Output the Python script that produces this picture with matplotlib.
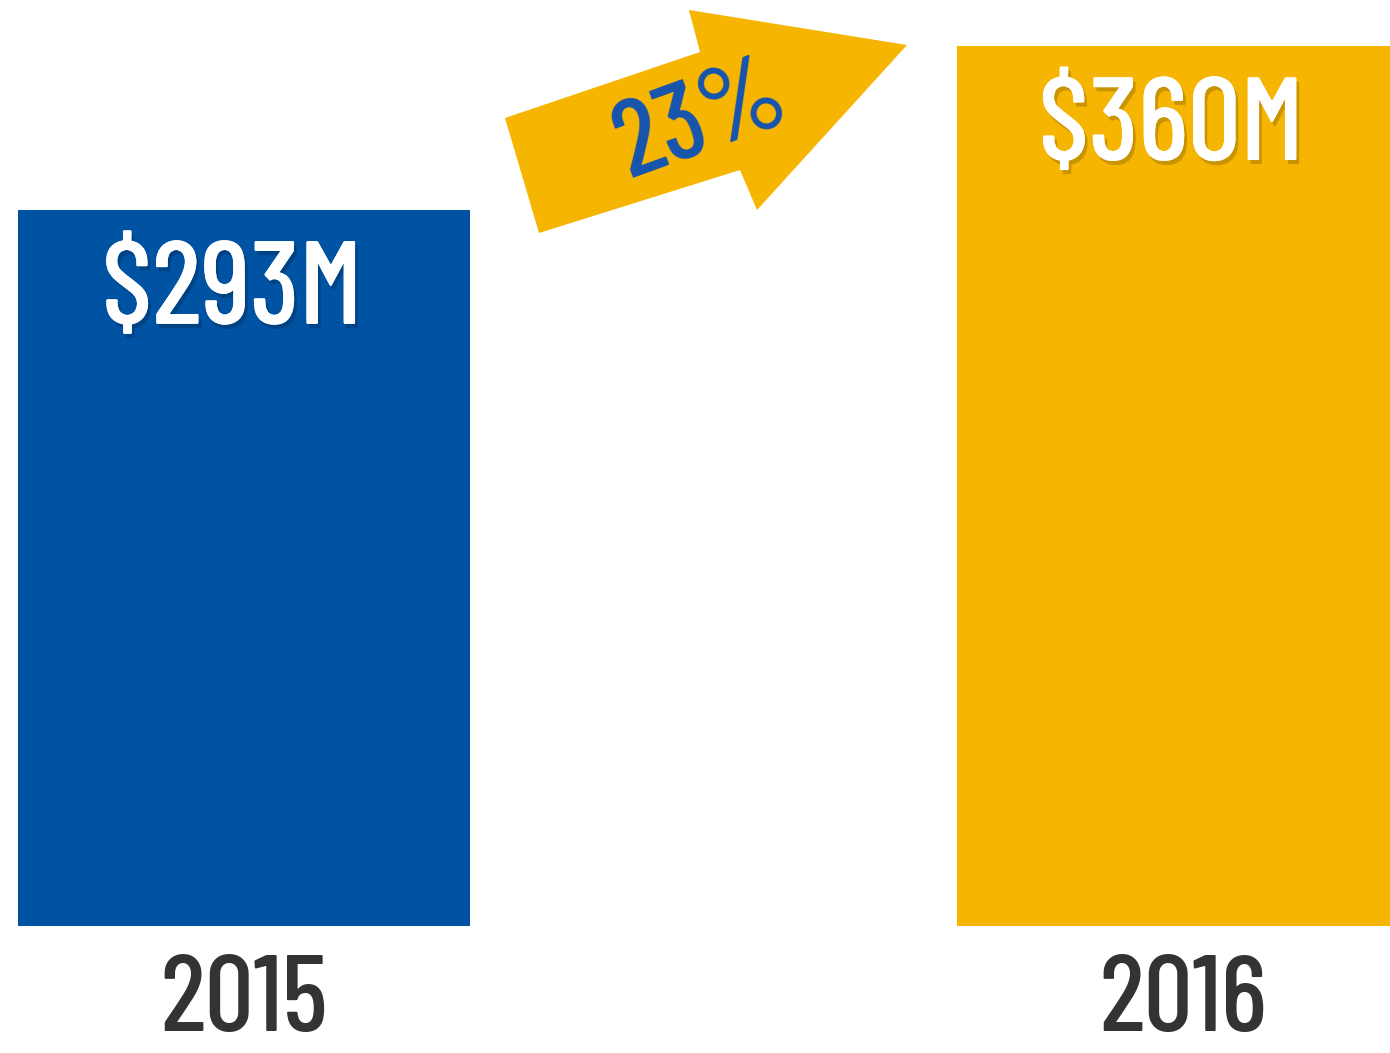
import matplotlib
matplotlib.use('Agg')
import matplotlib.pyplot as plt
import matplotlib.patheffects as pe
from matplotlib.patches import Polygon

# dados do gráfico
anos = ['2015', '2016']
valores = [293, 360]          # milhões de dólares
rotulos = ['$293M', '$360M']
crescimento = '23%'

cores = ['#0052A3', '#F6B500']
fonte = ['Barlow Condensed', 'DejaVu Sans']

W, H = 1390, 1053
fig = plt.figure(figsize=(W / 100, H / 100), dpi=100)
ax = fig.add_axes([0, 0, 1, 1])

# escala: 939 px entre centros das barras, 880 px para 360
px_x = 939
px_y = 880 / 360
ax.set_xlim(-244 / px_x, 1 + (W - 1183) / px_x)
ax.set_ylim(-127 / px_y, (H - 127) / px_y)
ax.axis('off')

ax.bar(range(len(anos)), valores, width=452 / px_x, color=cores)

sombra = [pe.withSimplePatchShadow(offset=(2, -3), shadow_rgbFace='black', alpha=0.18), pe.Normal()]

for i, (v, r) in enumerate(zip(valores, rotulos)):
    ax.text(i - 12 / px_x, v - 84 / px_y, r, ha='center', va='center',
            color='white', fontsize=85, family=fonte, weight='medium', path_effects=sombra)
    ax.text(i, -78 / px_y, anos[i], ha='center', va='center',
            color='#333333', fontsize=78, family=fonte, weight='medium')

# seta amarela com o percentual
pts = [(539, 233), (505, 118), (700, 52), (689, 10), (907, 45), (757, 210), (740, 170)]
seta = Polygon([(x / W, 1 - y / H) for x, y in pts], closed=True,
               transform=fig.transFigure, facecolor='#F6B500', edgecolor='none')
fig.patches.append(seta)
fig.text(702 / W, 1 - 122 / H, crescimento, ha='center', va='center', rotation=20,
         color='#1654B0', fontsize=78, family=fonte, weight='medium')

fig.savefig('out.png', dpi=100, facecolor='white')
